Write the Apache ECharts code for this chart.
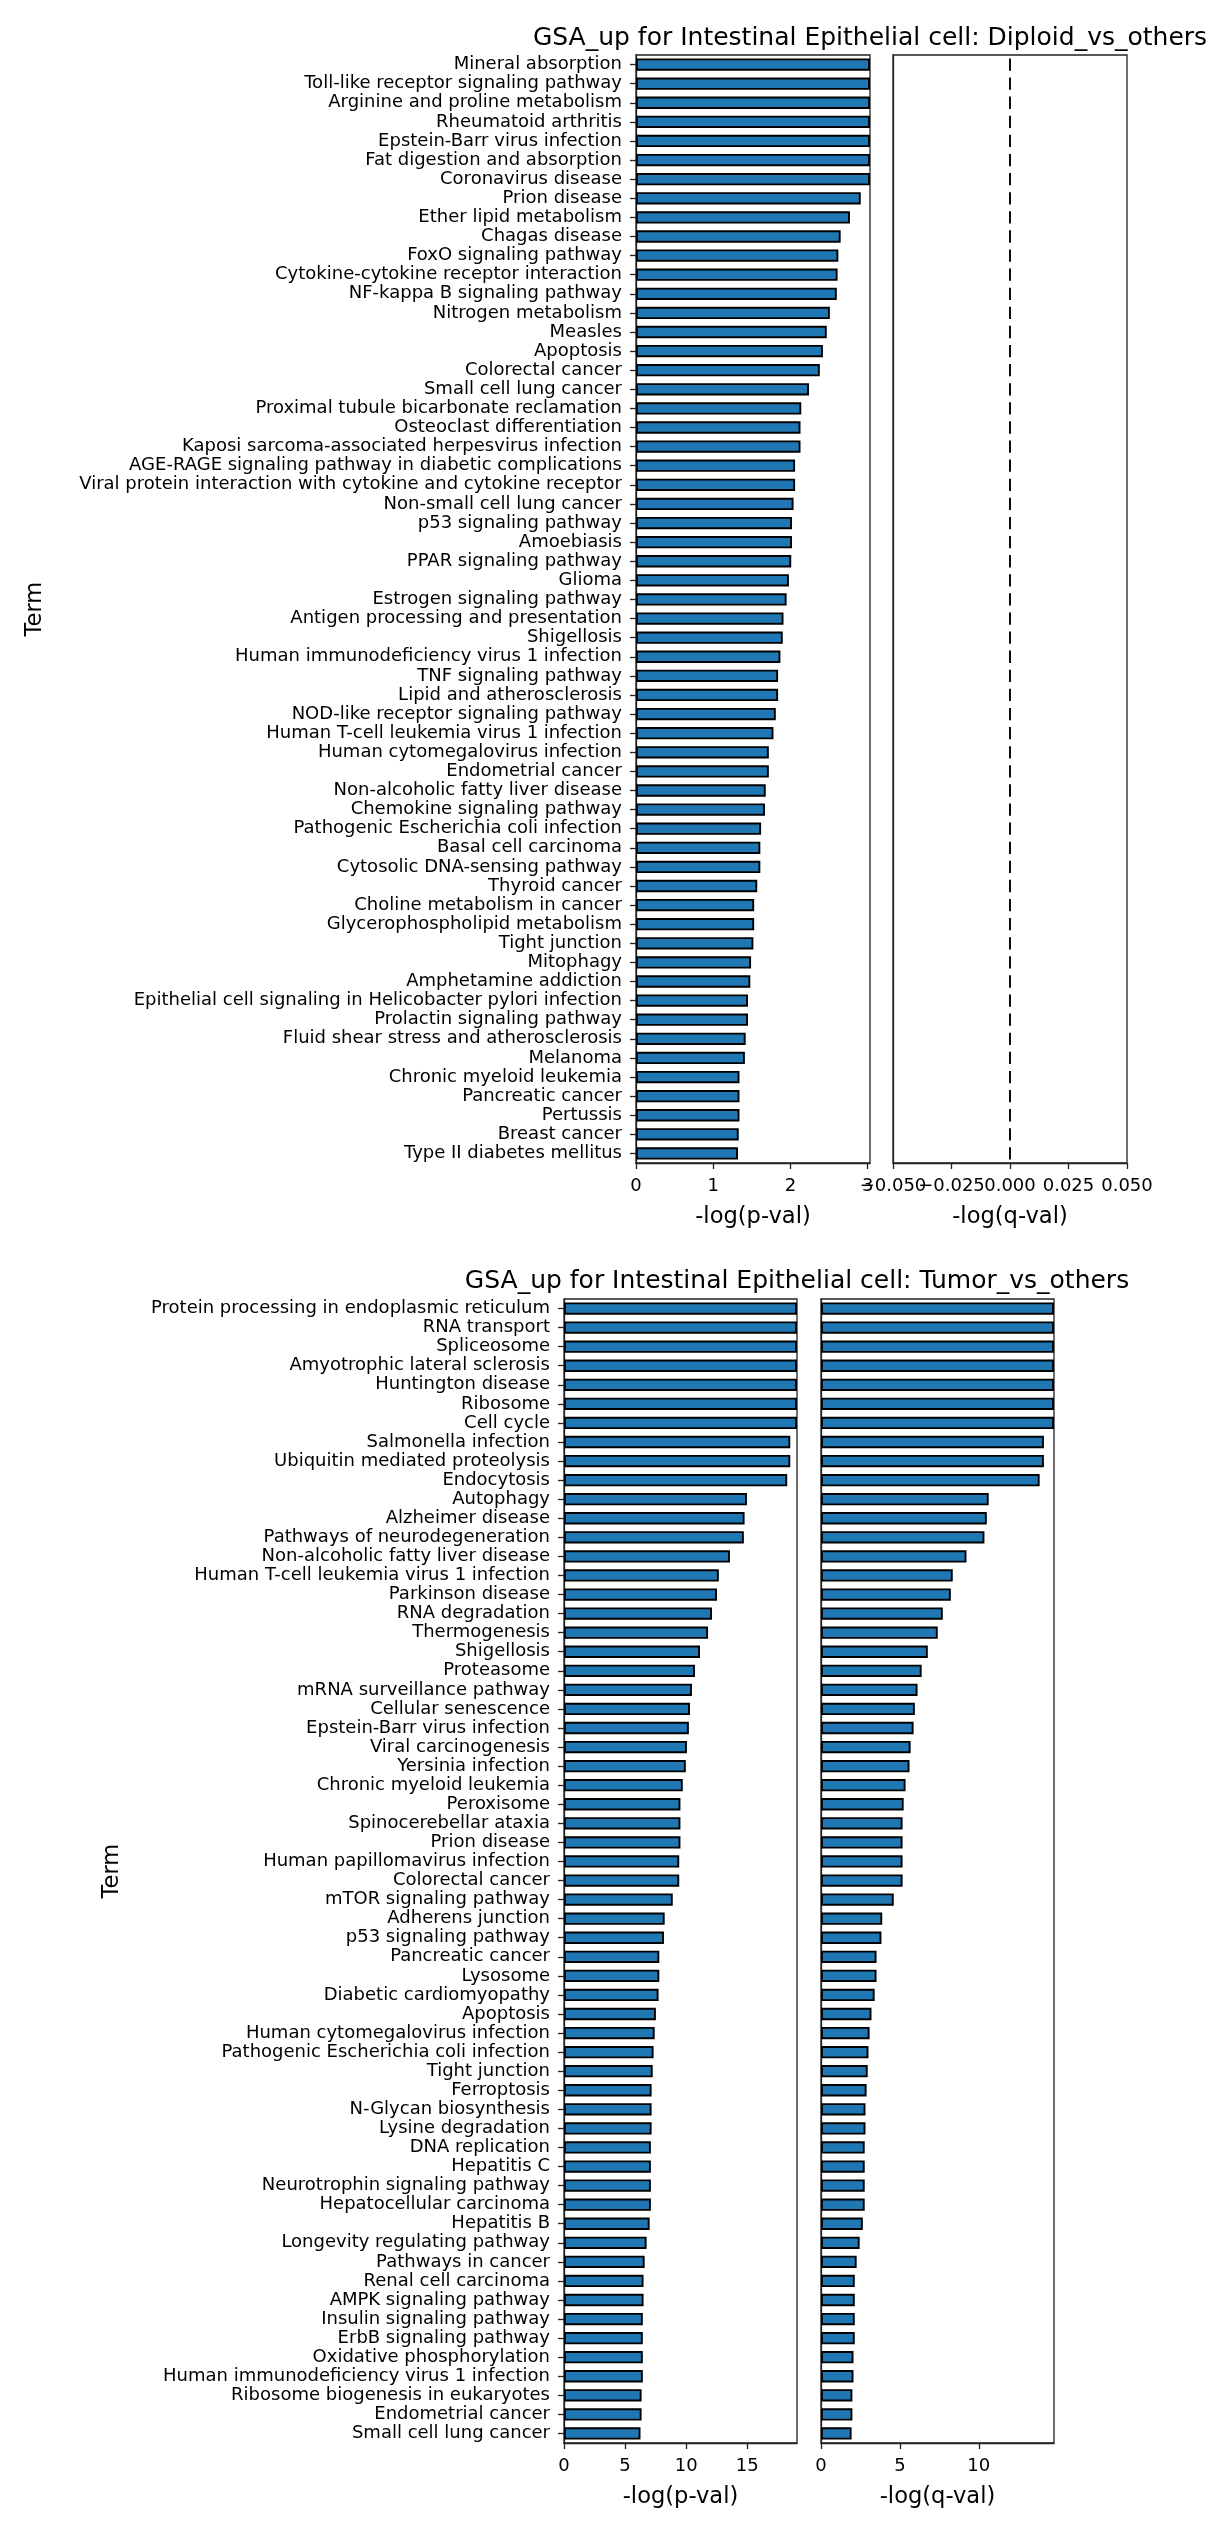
<!DOCTYPE html>
<html>
<head>
<meta charset="utf-8">
<script src="https://cdn.jsdelivr.net/npm/echarts@6/dist/echarts.min.js"></script>
<style>
body { margin: 0; background: #fff; }
#main { width: 1229px; height: 2533px; }
</style>
</head>
<body>
<div id="main"></div>
<script>
// Diploid_vs_others
var diploidTerms = [
    'Mineral absorption', 'Toll-like receptor signaling pathway', 'Arginine and proline metabolism',
    'Rheumatoid arthritis', 'Epstein-Barr virus infection', 'Fat digestion and absorption',
    'Coronavirus disease', 'Prion disease', 'Ether lipid metabolism', 'Chagas disease',
    'FoxO signaling pathway', 'Cytokine-cytokine receptor interaction', 'NF-kappa B signaling pathway',
    'Nitrogen metabolism', 'Measles', 'Apoptosis', 'Colorectal cancer', 'Small cell lung cancer',
    'Proximal tubule bicarbonate reclamation', 'Osteoclast differentiation',
    'Kaposi sarcoma-associated herpesvirus infection',
    'AGE-RAGE signaling pathway in diabetic complications',
    'Viral protein interaction with cytokine and cytokine receptor', 'Non-small cell lung cancer',
    'p53 signaling pathway', 'Amoebiasis', 'PPAR signaling pathway', 'Glioma',
    'Estrogen signaling pathway', 'Antigen processing and presentation', 'Shigellosis',
    'Human immunodeficiency virus 1 infection', 'TNF signaling pathway', 'Lipid and atherosclerosis',
    'NOD-like receptor signaling pathway', 'Human T-cell leukemia virus 1 infection',
    'Human cytomegalovirus infection', 'Endometrial cancer', 'Non-alcoholic fatty liver disease',
    'Chemokine signaling pathway', 'Pathogenic Escherichia coli infection', 'Basal cell carcinoma',
    'Cytosolic DNA-sensing pathway', 'Thyroid cancer', 'Choline metabolism in cancer',
    'Glycerophospholipid metabolism', 'Tight junction', 'Mitophagy', 'Amphetamine addiction',
    'Epithelial cell signaling in Helicobacter pylori infection', 'Prolactin signaling pathway',
    'Fluid shear stress and atherosclerosis', 'Melanoma', 'Chronic myeloid leukemia',
    'Pancreatic cancer', 'Pertussis', 'Breast cancer', 'Type II diabetes mellitus'
];
var diploidPval = [
    3.03, 3.03, 3.03, 3.03, 3.03, 3.03, 3.03, 2.91, 2.77, 2.65,
    2.62, 2.61, 2.60, 2.51, 2.47, 2.42, 2.38, 2.24, 2.14, 2.13,
    2.13, 2.06, 2.06, 2.04, 2.02, 2.02, 2.01, 1.98, 1.95, 1.91,
    1.90, 1.87, 1.84, 1.84, 1.81, 1.78, 1.72, 1.72, 1.68, 1.67,
    1.62, 1.61, 1.61, 1.57, 1.53, 1.53, 1.52, 1.49, 1.48, 1.45,
    1.45, 1.42, 1.41, 1.34, 1.34, 1.34, 1.33, 1.32
];
var diploidQval = [
    0, 0, 0, 0, 0, 0, 0, 0, 0, 0,
    0, 0, 0, 0, 0, 0, 0, 0, 0, 0,
    0, 0, 0, 0, 0, 0, 0, 0, 0, 0,
    0, 0, 0, 0, 0, 0, 0, 0, 0, 0,
    0, 0, 0, 0, 0, 0, 0, 0, 0, 0,
    0, 0, 0, 0, 0, 0, 0, 0
];

// Tumor_vs_others
var tumorTerms = [
    'Protein processing in endoplasmic reticulum', 'RNA transport', 'Spliceosome',
    'Amyotrophic lateral sclerosis', 'Huntington disease', 'Ribosome', 'Cell cycle',
    'Salmonella infection', 'Ubiquitin mediated proteolysis', 'Endocytosis', 'Autophagy',
    'Alzheimer disease', 'Pathways of neurodegeneration', 'Non-alcoholic fatty liver disease',
    'Human T-cell leukemia virus 1 infection', 'Parkinson disease', 'RNA degradation',
    'Thermogenesis', 'Shigellosis', 'Proteasome', 'mRNA surveillance pathway',
    'Cellular senescence', 'Epstein-Barr virus infection', 'Viral carcinogenesis',
    'Yersinia infection', 'Chronic myeloid leukemia', 'Peroxisome', 'Spinocerebellar ataxia',
    'Prion disease', 'Human papillomavirus infection', 'Colorectal cancer', 'mTOR signaling pathway',
    'Adherens junction', 'p53 signaling pathway', 'Pancreatic cancer', 'Lysosome',
    'Diabetic cardiomyopathy', 'Apoptosis', 'Human cytomegalovirus infection',
    'Pathogenic Escherichia coli infection', 'Tight junction', 'Ferroptosis', 'N-Glycan biosynthesis',
    'Lysine degradation', 'DNA replication', 'Hepatitis C', 'Neurotrophin signaling pathway',
    'Hepatocellular carcinoma', 'Hepatitis B', 'Longevity regulating pathway', 'Pathways in cancer',
    'Renal cell carcinoma', 'AMPK signaling pathway', 'Insulin signaling pathway',
    'ErbB signaling pathway', 'Oxidative phosphorylation', 'Human immunodeficiency virus 1 infection',
    'Ribosome biogenesis in eukaryotes', 'Endometrial cancer', 'Small cell lung cancer'
];
var tumorPval = [
    19.07, 19.07, 19.07, 19.07, 19.07, 19.07, 19.07, 18.52, 18.52, 18.27,
    14.97, 14.78, 14.72, 13.58, 12.67, 12.52, 12.11, 11.79, 11.13, 10.72,
    10.47, 10.31, 10.22, 10.06, 9.97, 9.72, 9.53, 9.53, 9.53, 9.43,
    9.43, 8.90, 8.24, 8.18, 7.80, 7.80, 7.74, 7.52, 7.42, 7.33,
    7.26, 7.17, 7.17, 7.17, 7.11, 7.11, 7.11, 7.11, 7.01, 6.76,
    6.60, 6.51, 6.51, 6.45, 6.45, 6.45, 6.45, 6.35, 6.35, 6.26
];
var tumorQval = [
    14.77, 14.77, 14.77, 14.77, 14.77, 14.77, 14.77, 14.13, 14.13, 13.86,
    10.63, 10.51, 10.36, 9.22, 8.35, 8.23, 7.72, 7.40, 6.77, 6.38,
    6.12, 5.95, 5.87, 5.68, 5.61, 5.36, 5.24, 5.17, 5.17, 5.17,
    5.17, 4.61, 3.88, 3.83, 3.52, 3.52, 3.40, 3.20, 3.08, 3.01,
    2.96, 2.89, 2.82, 2.82, 2.77, 2.77, 2.77, 2.77, 2.65, 2.45,
    2.26, 2.14, 2.14, 2.14, 2.14, 2.06, 2.06, 1.99, 1.99, 1.94
];

// axis limits and ticks
var diploidPMax = 3.03;
var diploidQRange = [-0.05, 0.05];
var tumorPMax = 19.07;
var tumorQMax = 14.77;
var diploidPTicks = [0, 1, 2, 3];
var diploidQTicks = [-0.05, -0.025, 0, 0.025, 0.05];
// matplotlib draws every q label even where they collide; split them over two axes so none is dropped
var diploidQLabelsA = [-0.05, 0, 0.05];
var diploidQLabelsB = [-0.025, 0.025];
var tumorPTicks = [0, 5, 10, 15];
var tumorQTicks = [0, 5, 10];

var FONT = 'DejaVu Sans';
var INK = '#222';

var grids = [
    {left: 636, top: 55, width: 234, height: 1108},
    {left: 893, top: 55, width: 234, height: 1108},
    {left: 564, top: 1299, width: 233, height: 1144},
    {left: 821, top: 1299, width: 233, height: 1144}
];
grids.forEach(function (g) {
    g.show = true;
    g.borderColor = INK;
    g.borderWidth = 1.3;
    g.backgroundColor = 'transparent';
    g.containLabel = false;
});

function fmtPlain(v) {
    return String(v);
}
function fmtQ(v) {
    var s = Math.abs(v).toFixed(3);
    return v < 0 ? '\u2212' + s : s;
}

function makeX(gi, min, max, ticks, labels, name, fmt) {
    return {
        type: 'value',
        gridIndex: gi,
        position: 'bottom',
        min: min,
        max: max,
        splitLine: {show: false},
        axisLine: {show: true, onZero: false, lineStyle: {color: INK, width: 1.3}},
        axisTick: {show: true, length: 6, customValues: ticks, lineStyle: {color: INK, width: 1.3}},
        axisLabel: {
            customValues: labels, formatter: fmt, fontSize: 18, color: '#000',
            fontFamily: FONT, margin: 14, hideOverlap: false,
            showMinLabel: true, showMaxLabel: true
        },
        name: name,
        nameLocation: 'middle',
        nameGap: 43,
        nameTextStyle: {fontSize: 22.6, color: '#000', fontFamily: FONT}
    };
}

function makeY(gi, terms, showLabels, nameGap) {
    return {
        type: 'category',
        gridIndex: gi,
        data: terms,
        inverse: true,
        axisLine: {show: true, onZero: false, lineStyle: {color: INK, width: 1.3}},
        axisTick: {show: showLabels, length: 6, alignWithLabel: true, interval: 0, lineStyle: {color: INK, width: 1.3}},
        axisLabel: {show: showLabels, interval: 0, fontSize: 18, color: '#000', fontFamily: FONT, margin: 14},
        splitLine: {show: false},
        name: showLabels ? 'Term' : '',
        nameLocation: 'middle',
        nameGap: nameGap,
        nameTextStyle: {fontSize: 22.6, color: '#000', fontFamily: FONT}
    };
}

function makeBar(i, values) {
    return {
        type: 'bar',
        xAxisIndex: i,
        yAxisIndex: i,
        data: values,
        barWidth: 12.3,
        silent: true,
        itemStyle: {color: '#1f77b4', borderColor: '#000', borderWidth: 1.9}
    };
}

// second label row for the q axis of the first figure
var qExtra = makeX(1, diploidQRange[0], diploidQRange[1], [], diploidQLabelsB, '', fmtQ);
qExtra.axisLine = {show: false, onZero: false};
qExtra.axisTick = {show: false};

var chart = echarts.init(document.getElementById('main'), null, {renderer: 'canvas'});
chart.setOption({
    animation: false,
    backgroundColor: '#fff',
    textStyle: {fontFamily: FONT},
    grid: grids,
    xAxis: [
        makeX(0, 0, diploidPMax, diploidPTicks, diploidPTicks, '-log(p-val)', fmtPlain),
        makeX(1, diploidQRange[0], diploidQRange[1], diploidQTicks, diploidQLabelsA, '-log(q-val)', fmtQ),
        makeX(2, 0, tumorPMax, tumorPTicks, tumorPTicks, '-log(p-val)', fmtPlain),
        makeX(3, 0, tumorQMax, tumorQTicks, tumorQTicks, '-log(q-val)', fmtPlain),
        qExtra
    ],
    yAxis: [
        makeY(0, diploidTerms, true, 589),
        makeY(1, diploidTerms, false, 0),
        makeY(2, tumorTerms, true, 440),
        makeY(3, tumorTerms, false, 0)
    ],
    series: [
        makeBar(0, diploidPval),
        makeBar(1, diploidQval),
        makeBar(2, tumorPval),
        makeBar(3, tumorQval)
    ],
    graphic: [
        {
            type: 'text', x: 870, y: 38,
            style: {
                text: 'GSA_up for Intestinal Epithelial cell: Diploid_vs_others',
                font: '25px "DejaVu Sans"', fill: '#000', textAlign: 'center', textVerticalAlign: 'middle'
            }
        },
        {
            type: 'text', x: 797, y: 1281,
            style: {
                text: 'GSA_up for Intestinal Epithelial cell: Tumor_vs_others',
                font: '25px "DejaVu Sans"', fill: '#000', textAlign: 'center', textVerticalAlign: 'middle'
            }
        }
    ]
});
</script>
</body>
</html>
